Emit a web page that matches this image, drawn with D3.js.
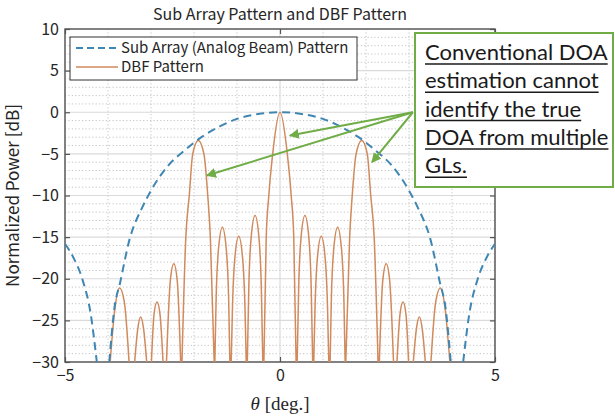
<!DOCTYPE html>
<html>
<head>
<meta charset="utf-8">
<style>
body { margin: 0; background: #fff; }
text { font-family: "Noto Sans CJK JP", "Liberation Sans", sans-serif; fill: #262626; }
.grid-major { stroke: #dadada; stroke-width: 1.2px; }
.grid-minor { stroke: #c4c4c4; stroke-width: 1px; stroke-dasharray: 1.2,2.2; }
.note { font-family: "Lato", "Open Sans", sans-serif; font-size: 22px; fill: #1a1a1a; }
</style>
</head>
<body>
<svg width="615" height="416"></svg>
<script src="https://cdn.jsdelivr.net/npm/d3@7"></script>
<script>

// sub array (analog beam) pattern
var subTheta = [-5, -4.8, -4.6, -4.4, -4.26, -3.97, -3.85, -3.72, -3.5, -3.2, -3.0, -2.6, -2.2, -1.8, -1.4, -1.0, -0.5, 0,
                0.5, 1.0, 1.4, 1.8, 2.2, 2.6, 3.0, 3.2, 3.5, 3.72, 3.85, 3.97, 4.26, 4.4, 4.6, 4.8, 5];
var subPower = [-15.8, -17.5, -20.0, -24.3, -30, -30, -23.5, -20.5, -15.3, -11.4, -9.4, -6.4, -4.5, -2.9, -1.7, -0.8, -0.2, 0,
                -0.2, -0.8, -1.7, -2.9, -4.5, -6.4, -9.4, -11.4, -15.3, -20.5, -23.5, -30, -30, -24.3, -20.0, -17.5, -15.8];

// DBF pattern, lobe by lobe (a -30 point closes/opens a lobe)
var dbfTheta = [
  -3.95, -3.84, -3.73, -3.62, -3.51,
  -3.38, -3.31, -3.24, -3.17, -3.10,
  -2.99, -2.93, -2.86, -2.79, -2.72,
  -2.64, -2.55, -2.47, -2.39, -2.31,
  -2.28, -2.19, -2.11, -2.03, -1.9, -1.77, -1.68, -1.62, -1.53,
  -1.515, -1.485, -1.43, -1.34, -1.25, -1.195, -1.165,
  -1.135, -1.105, -1.05, -0.96, -0.87, -0.815, -0.785,
  -0.76, -0.725, -0.67, -0.58, -0.49, -0.435, -0.40,
  -0.375, -0.32, -0.26, -0.17, 0, 0.17, 0.26, 0.32, 0.375,
  0.40, 0.435, 0.49, 0.58, 0.67, 0.725, 0.76,
  0.785, 0.815, 0.87, 0.96, 1.05, 1.105, 1.135,
  1.165, 1.195, 1.25, 1.34, 1.43, 1.485, 1.515,
  1.53, 1.62, 1.68, 1.77, 1.9, 2.03, 2.11, 2.19, 2.28,
  2.31, 2.39, 2.47, 2.55, 2.64,
  2.72, 2.79, 2.86, 2.93, 2.99,
  3.10, 3.17, 3.24, 3.31, 3.38,
  3.51, 3.62, 3.73, 3.84, 3.95
];
var dbfPower = [
  -30, -23.6, -21.1, -22.8, -30,
  -30, -26.1, -24.6, -26.1, -30,
  -30, -24.3, -22.8, -24.3, -30,
  -30, -20.2, -18.2, -20.2, -30,
  -30, -15, -10, -5, -3.4, -5, -10, -15, -30,
  -30, -22.3, -16.4, -13.8, -16.4, -22.3, -30,
  -30, -23.4, -17.5, -14.9, -17.5, -23.4, -30,
  -30, -20.9, -15.0, -12.4, -15.0, -20.9, -30,
  -30, -15, -10, -5, 0, -5, -10, -15, -30,
  -30, -20.9, -15.0, -12.4, -15.0, -20.9, -30,
  -30, -23.4, -17.5, -14.9, -17.5, -23.4, -30,
  -30, -22.3, -16.4, -13.8, -16.4, -22.3, -30,
  -30, -15, -10, -5, -3.4, -5, -10, -15, -30,
  -30, -20.2, -18.2, -20.2, -30,
  -30, -24.3, -22.8, -24.3, -30,
  -30, -26.1, -24.6, -26.1, -30,
  -30, -22.8, -21.1, -23.6, -30
];

var xTicks = [-5, 0, 5];
var yTicks = [-30, -25, -20, -15, -10, -5, 0, 5, 10];
var legendLabels = ["Sub Array (Analog Beam) Pattern", "DBF Pattern"];
var noteLines = ["Conventional DOA", "estimation cannot", "identify the true", "DOA from multiple", "GLs."];

var svg = d3.select("svg"),
    pLeft = 65, pRight = 495, pTop = 29, pBottom = 362;

var x = d3.scaleLinear().domain([-5, 5]).range([pLeft, pRight]);
var y = d3.scaleLinear().domain([-30, 10]).range([pBottom, pTop]);

svg.append("defs").append("clipPath").attr("id", "plotclip")
  .append("rect").attr("x", pLeft).attr("y", pTop).attr("width", pRight - pLeft).attr("height", pBottom - pTop);

// grid
var g = svg.append("g");
g.selectAll(".ym").data(d3.range(-30, 11, 1).filter(function(d){ return d % 5 != 0; }))
  .enter().append("line").attr("class", "grid-minor")
  .attr("x1", pLeft).attr("x2", pRight).attr("y1", function(d){ return y(d); }).attr("y2", function(d){ return y(d); });
g.selectAll(".xm").data(d3.range(-5, 6, 1).filter(function(d){ return d % 5 != 0; }))
  .enter().append("line").attr("class", "grid-minor")
  .attr("y1", pTop).attr("y2", pBottom).attr("x1", function(d){ return x(d); }).attr("x2", function(d){ return x(d); });
g.selectAll(".yM").data(yTicks)
  .enter().append("line").attr("class", "grid-major")
  .attr("x1", pLeft).attr("x2", pRight).attr("y1", function(d){ return y(d); }).attr("y2", function(d){ return y(d); });
g.selectAll(".xM").data(xTicks)
  .enter().append("line").attr("class", "grid-major")
  .attr("y1", pTop).attr("y2", pBottom).attr("x1", function(d){ return x(d); }).attr("x2", function(d){ return x(d); });

// axes, ticks inward like matlab
function styleAxis(sel) {
  sel.select(".domain").remove();
  sel.selectAll(".tick line").attr("stroke", "#555").attr("stroke-width", 1.2);
  sel.selectAll(".tick text").style("font-size", "16px").attr("fill", "#262626");
}
svg.append("g").attr("transform", "translate(" + pLeft + ",0)")
  .call(d3.axisLeft(y).tickValues(yTicks).tickSize(-5).tickPadding(6)).call(styleAxis);
svg.append("g").attr("transform", "translate(" + pRight + ",0)")
  .call(d3.axisRight(y).tickValues(yTicks).tickSize(-5).tickFormat("")).call(styleAxis);
svg.append("g").attr("transform", "translate(0," + pBottom + ")")
  .call(d3.axisBottom(x).tickValues(xTicks).tickSize(-5).tickPadding(8)).call(styleAxis);
svg.append("g").attr("transform", "translate(0," + pTop + ")")
  .call(d3.axisTop(x).tickValues(xTicks).tickSize(-5).tickFormat("")).call(styleAxis);

svg.append("rect").attr("x", pLeft).attr("y", pTop).attr("width", pRight - pLeft).attr("height", pBottom - pTop)
  .attr("fill", "none").attr("stroke", "#555").attr("stroke-width", 1.4);

// curves
function lobes(th, pw) {
  var segs = [], cur = [];
  for (var i = 0; i < th.length; i++) {
    cur.push([th[i], pw[i]]);
    if (pw[i] <= -30 && cur.length > 1) { segs.push(cur); cur = []; }
  }
  if (cur.length > 1) segs.push(cur);
  return segs;
}
var line = d3.line().x(function(d){ return x(d[0]); }).y(function(d){ return y(d[1]); }).curve(d3.curveMonotoneX);

var plot = svg.append("g").attr("clip-path", "url(#plotclip)");
plot.append("path")
  .attr("d", lobes(dbfTheta, dbfPower).map(line).join(""))
  .attr("fill", "none").attr("stroke", "#d08a5c").attr("stroke-width", 1.5);
plot.append("path")
  .attr("d", lobes(subTheta, subPower).map(line).join(""))
  .attr("fill", "none").attr("stroke", "#3f86b3").attr("stroke-width", 2).attr("stroke-dasharray", "8,5");

// legend
var lg = svg.append("g");
lg.append("rect").attr("x", 70).attr("y", 37).attr("width", 287).attr("height", 43)
  .attr("fill", "#fff").attr("stroke", "#333").attr("stroke-width", 1);
lg.append("line").attr("x1", 76).attr("x2", 118).attr("y1", 48).attr("y2", 48)
  .attr("stroke", "#3f86b3").attr("stroke-width", 1.8).attr("stroke-dasharray", "7,4");
lg.append("line").attr("x1", 76).attr("x2", 118).attr("y1", 67).attr("y2", 67)
  .attr("stroke", "#d08a5c").attr("stroke-width", 1.5);
lg.selectAll("text").data(legendLabels).enter().append("text")
  .attr("x", 121).attr("y", function(d, i){ return 53 + i * 19; })
  .style("font-size", "15px").text(function(d){ return d; });

// titles
svg.append("text").attr("x", (pLeft + pRight) / 2).attr("y", 20).attr("text-anchor", "middle")
  .style("font-size", "16px").text("Sub Array Pattern and DBF Pattern");
svg.append("text").attr("transform", "translate(19," + (pTop + pBottom) / 2 + ") rotate(-90)")
  .attr("text-anchor", "middle").style("font-size", "17px").text("Normalized Power [dB]");
var xl = svg.append("text").attr("x", (pLeft + pRight) / 2).attr("y", 410).attr("text-anchor", "middle")
  .style("font-family", "'Liberation Serif', serif").style("font-size", "19px");
xl.append("tspan").style("font-style", "italic").text("θ");
xl.append("tspan").text(" [deg.]");

// annotation arrows
var green = "#70ad47";
svg.append("defs").append("marker").attr("id", "ah").attr("viewBox", "0 0 10 10")
  .attr("refX", 9).attr("refY", 5).attr("markerWidth", 5).attr("markerHeight", 5).attr("orient", "auto")
  .append("path").attr("d", "M0,0L10,5L0,10z").attr("fill", green);
var from = [x(3.09), y(0)];
[[0.23, -2.8], [-1.70, -7.6], [2.14, -6.0]].forEach(function(p) {
  svg.append("line").attr("x1", from[0]).attr("y1", from[1]).attr("x2", x(p[0])).attr("y2", y(p[1]))
    .attr("stroke", green).attr("stroke-width", 2).attr("marker-end", "url(#ah)");
});

// annotation box
var nb = svg.append("g");
nb.append("rect").attr("x", 415).attr("y", 33).attr("width", 198).attr("height", 154)
  .attr("fill", "#fff").attr("stroke", green).attr("stroke-width", 2);
nb.selectAll("text").data(noteLines).enter().append("text").attr("class", "note")
  .attr("x", 425).attr("y", function(d, i){ return 60 + i * 28.3; })
  .text(function(d){ return d; })
  .each(function(d, i) {
    var w = this.getComputedTextLength();
    nb.append("line").attr("x1", 425).attr("x2", 425 + w)
      .attr("y1", 64 + i * 28.3).attr("y2", 64 + i * 28.3)
      .attr("stroke", "#1a1a1a").attr("stroke-width", 1.5);
  });

</script>
</body>
</html>
